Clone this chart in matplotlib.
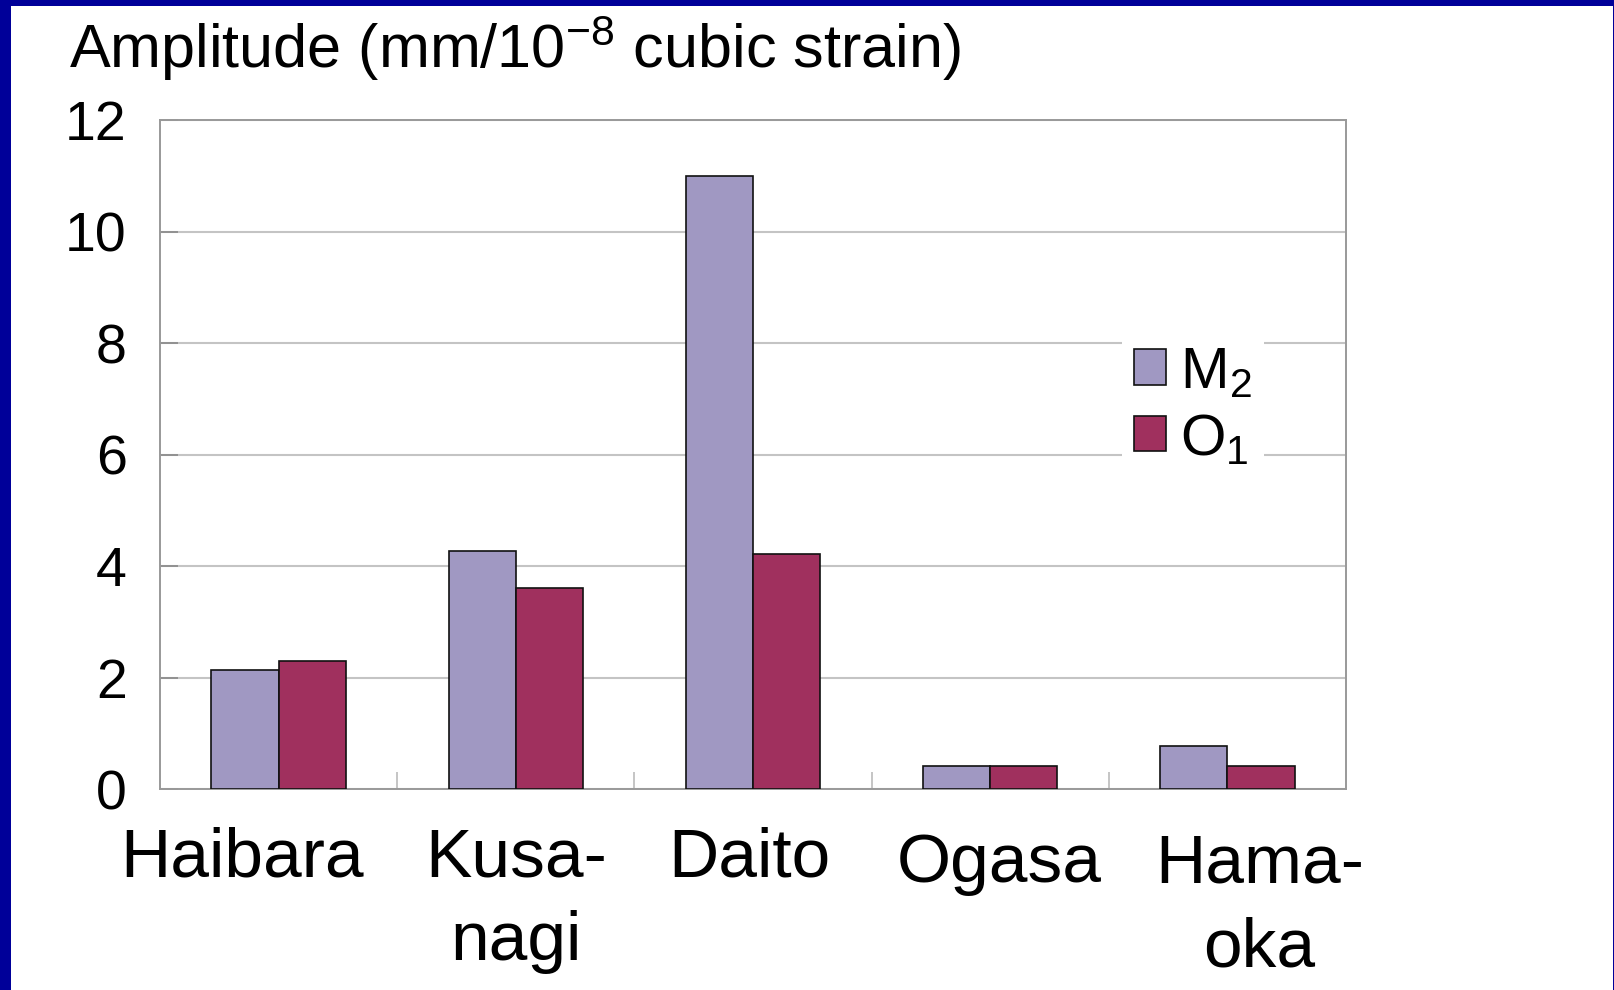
import matplotlib
matplotlib.use("Agg")
import matplotlib.pyplot as plt
import matplotlib.transforms as mtransforms
import numpy as np
from matplotlib.patches import Rectangle

stations = ["Haibara", "Kusa-\nnagi", "Daito", "Ogasa", "Hama-\noka"]
m2_vals = [2.13, 4.27, 11.0, 0.42, 0.77]
o1_vals = [2.30, 3.60, 4.21, 0.42, 0.42]
y_ticks = [0, 2, 4, 6, 8, 10, 12]

W, H = 1615, 990
plt.rcParams["font.family"] = ["Liberation Sans", "DejaVu Sans"]

fig = plt.figure(figsize=(W / 100, H / 100), dpi=100, facecolor="#000099")
# white slide area inside the blue frame
fig.add_artist(Rectangle((11 / W, 0), (W - 13) / W, (H - 6) / H,
                         transform=fig.transFigure, facecolor="white",
                         edgecolor="none", zorder=-10))

ax = fig.add_axes([160 / W, (H - 789) / H, 1186 / W, 669 / H])
x = np.arange(len(stations))
bw = 0.283
ax.bar(x - bw / 2, m2_vals, bw, color="#a098c2", edgecolor="#111111",
       linewidth=1.2, label=r"$\mathregular{M_2}$", zorder=3)
ax.bar(x + bw / 2, o1_vals, bw, color="#a0305e", edgecolor="#111111",
       linewidth=1.2, label=r"$\mathregular{O_1}$", zorder=3)

ax.set_xlim(-0.5, len(stations) - 0.5)
ax.set_ylim(0, 12)
ax.set_yticks(y_ticks)
ax.set_yticklabels([str(v) for v in y_ticks], fontsize=40)
ax.grid(axis="y", color="#c4c4c4", linewidth=1.5, zorder=0)
ax.tick_params(axis="y", direction="in", length=13, width=1.2,
               color="#888888", pad=24)

ax.set_xticks(x)
ax.set_xticklabels(stations, fontsize=50, linespacing=1.4)
ax.tick_params(axis="x", length=0, pad=27)
ax.set_xticks(np.arange(0.5, len(stations) - 0.5), minor=True)
ax.tick_params(axis="x", which="minor", direction="in", length=12,
               width=1.2, color="#bbbbbb")

# nudge labels the way the original layout placed them
offsets = [(-37, 0), (0, 0), (-4, 0), (9, -6), (32, -6)]
for lab, (dx, dy) in zip(ax.get_xticklabels(), offsets):
    lab.set_transform(lab.get_transform() +
                      mtransforms.ScaledTranslation(dx / 100, dy / 100, fig.dpi_scale_trans))

for s in ax.spines.values():
    s.set_color("#999999")
    s.set_linewidth(1.4)

leg = ax.legend(loc="upper left", bbox_to_anchor=(1122 / W, 1 - 334 / H),
                bbox_transform=fig.transFigure, fontsize=42,
                frameon=True, fancybox=False, framealpha=1,
                handlelength=0.55, handleheight=0.55, handletextpad=0.25,
                labelspacing=0.22, borderpad=0.2, borderaxespad=0)
leg.get_frame().set_edgecolor("none")
leg.get_frame().set_facecolor("white")

fig.text(69 / W, 1 - 68 / H, r"Amplitude (mm/10$\mathregular{^{-8}}$ cubic strain)",
         fontsize=44, va="baseline", ha="left")

fig.savefig("out.png", dpi=100, facecolor=fig.get_facecolor())
